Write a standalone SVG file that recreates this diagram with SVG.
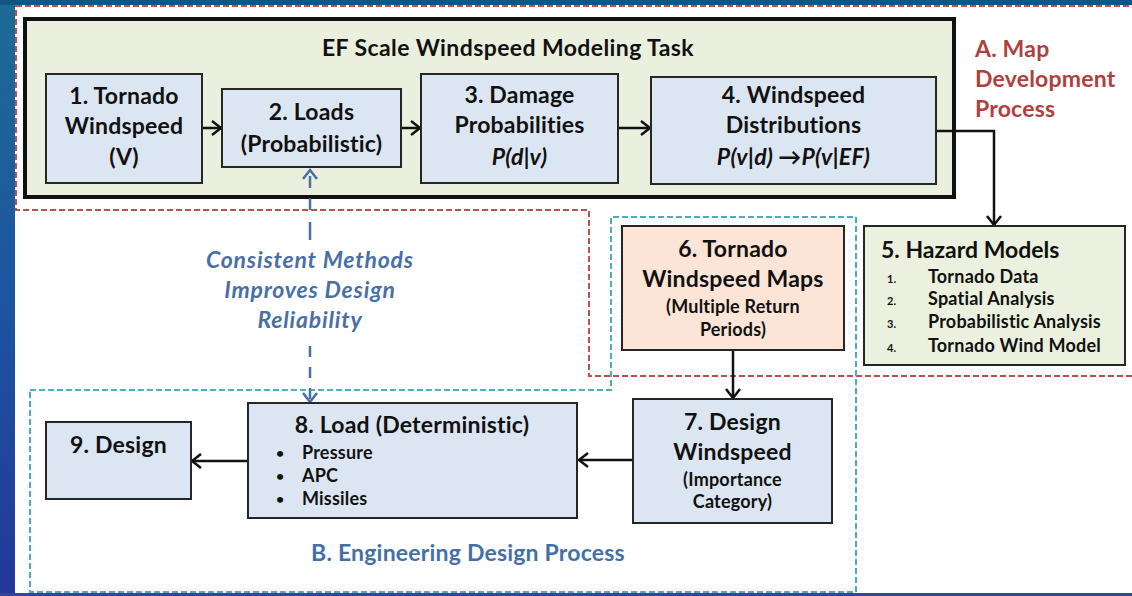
<svg xmlns="http://www.w3.org/2000/svg" width="1132" height="596" viewBox="0 0 1132 596">
<defs>
<linearGradient id="lg" x1="0" y1="0" x2="0" y2="1">
<stop offset="0" stop-color="#1c6b95"/>
<stop offset="0.5" stop-color="#1d55a0"/>
<stop offset="1" stop-color="#22389a"/>
</linearGradient>
<marker id="ah" markerUnits="userSpaceOnUse" markerWidth="14" markerHeight="18" refX="11" refY="9" orient="auto">
<path d="M2,2 L11,9 L2,16" fill="none" stroke="#111" stroke-width="2.5"/>
</marker>
<marker id="bh" markerUnits="userSpaceOnUse" markerWidth="14" markerHeight="18" refX="11" refY="9" orient="auto-start-reverse">
<path d="M2,2 L11,9 L2,16" fill="none" stroke="#4a6fa5" stroke-width="2.5"/>
</marker>
<style>
text{font-family:Lato,"Open Sans","Liberation Sans",sans-serif;font-weight:bold;fill:#111}
.c{text-anchor:middle}
.big{font-size:23px;letter-spacing:0.2px}
.sm{font-size:18px;letter-spacing:0.2px}
.bul{font-size:14px}
.tiny{font-size:11px}
.box{stroke:#262626;stroke-width:2}
.blue{fill:#dce6f2}
.wire{fill:none;stroke:#111;stroke-width:2.5;marker-end:url(#ah)}
.it{font-style:italic}
.bl{fill:#4a6fa5;letter-spacing:0.8px}
</style>
</defs>
<rect x="0" y="0" width="1132" height="596" fill="#ffffff"/>
<rect x="0" y="0" width="15" height="596" fill="url(#lg)"/>
<rect x="0" y="0" width="1132" height="5" fill="#0f5680"/>
<rect x="0" y="593" width="1132" height="3" fill="#34449a"/>

<g id="regionA">
<path d="M16,6 L1136,6 L1136,376 L589,376 L589,210 L16,210 Z" fill="none" stroke="#c0504d" stroke-width="2" stroke-dasharray="6 3"/>
<text x="975" y="57" class="big" style="fill:#b0403e">A. Map</text>
<text x="975" y="87" class="big" style="fill:#b0403e">Development</text>
<text x="975" y="117" class="big" style="fill:#b0403e">Process</text>
</g>
<g id="regionB">
<path d="M30,390 L611,390 L611,217 L856,217 L856,592 L30,592 Z" fill="none" stroke="#4bacc6" stroke-width="2" stroke-dasharray="6 3"/>
<text x="468" y="561" class="c big" style="fill:#4470a8">B. Engineering Design Process</text>
</g>

<g id="task">
<rect x="25" y="19" width="929" height="178" fill="#ebf0de" stroke="#111" stroke-width="4"/>
<text x="508" y="56" class="c" style="font-size:23px;letter-spacing:0.4px">EF Scale Windspeed Modeling Task</text>
</g>

<g id="connectors">
<path class="wire" d="M202,128 L221,128"/>
<path class="wire" d="M401,128 L420,128"/>
<path class="wire" d="M618,128 L650,128"/>
<path class="wire" d="M936,131 L994,131 L994,225"/>
<path class="wire" d="M733,350 L733,398"/>
<path class="wire" d="M633,460 L579,460"/>
<path class="wire" d="M248,461 L192,461"/>
<path d="M310,240 L310,170" fill="none" stroke="#4a6fa5" stroke-width="2.5" stroke-dasharray="18 12 12 10 12 10" marker-end="url(#bh)"/>
<path d="M310,346 L310,402" fill="none" stroke="#4a6fa5" stroke-width="2.5" stroke-dasharray="11 10" marker-end="url(#bh)"/>
<text x="310" y="268" class="c big it bl">Consistent Methods</text>
<text x="310" y="298" class="c big it bl">Improves Design</text>
<text x="310" y="328" class="c big it bl">Reliability</text>
</g>

<g id="n1">
<rect x="46" y="74" width="156" height="109" class="box blue"/>
<text x="124" y="104" class="c big">1. Tornado</text>
<text x="124" y="134" class="c big">Windspeed</text>
<text x="124" y="165" class="c big">(V)</text>
</g>
<g id="n2">
<rect x="222" y="89" width="179" height="78" class="box blue"/>
<text x="311.5" y="120" class="c big">2. Loads</text>
<text x="311.5" y="152" class="c big">(Probabilistic)</text>
</g>
<g id="n3">
<rect x="421" y="74" width="197" height="109" class="box blue"/>
<text x="519.5" y="103" class="c big">3. Damage</text>
<text x="519.5" y="133" class="c big">Probabilities</text>
<text x="519.5" y="165" class="c big it">P(d|v)</text>
</g>
<g id="n4">
<rect x="651" y="77" width="285" height="107" class="box blue"/>
<text x="793.5" y="103" class="c big">4. Windspeed</text>
<text x="793.5" y="133" class="c big">Distributions</text>
<text x="793.5" y="165" class="c big it">P(v|d) →P(v|EF)</text>
</g>
<g id="n5">
<rect x="864" y="226" width="261" height="139" class="box" fill="#ebf1de"/>
<text x="881" y="258" style="font-size:23px">5. Hazard Models</text>
<text x="887" y="283" class="tiny">1.</text>
<text x="887" y="305" class="tiny">2.</text>
<text x="887" y="328" class="tiny">3.</text>
<text x="887" y="352" class="tiny">4.</text>
<text x="928" y="283" class="sm">Tornado Data</text>
<text x="928" y="305" class="sm">Spatial Analysis</text>
<text x="928" y="328" class="sm">Probabilistic Analysis</text>
<text x="928" y="352" class="sm">Tornado Wind Model</text>
</g>
<g id="n6">
<rect x="622" y="226" width="222" height="124" class="box" fill="#fce4d6"/>
<text x="733" y="257" class="c big">6. Tornado</text>
<text x="733" y="287" class="c big">Windspeed Maps</text>
<text x="733" y="313" class="c sm">(Multiple Return</text>
<text x="733" y="336" class="c sm">Periods)</text>
</g>
<g id="n7">
<rect x="633" y="399" width="199" height="124" class="box blue"/>
<text x="732.5" y="430" class="c big">7. Design</text>
<text x="732.5" y="460" class="c big">Windspeed</text>
<text x="732.5" y="486" class="c sm">(Importance</text>
<text x="732.5" y="508" class="c sm">Category)</text>
</g>
<g id="n8">
<rect x="248" y="403" width="329" height="115" class="box blue"/>
<text x="412" y="433" class="c big">8. Load (Deterministic)</text>
<text x="276" y="458" class="bul">•</text>
<text x="276" y="481" class="bul">•</text>
<text x="276" y="504" class="bul">•</text>
<text x="302" y="459" class="sm">Pressure</text>
<text x="302" y="482" class="sm">APC</text>
<text x="302" y="505" class="sm">Missiles</text>
</g>
<g id="n9">
<rect x="46" y="422" width="145" height="77" class="box blue"/>
<text x="118.5" y="453" class="c big">9. Design</text>
</g>
</svg>
